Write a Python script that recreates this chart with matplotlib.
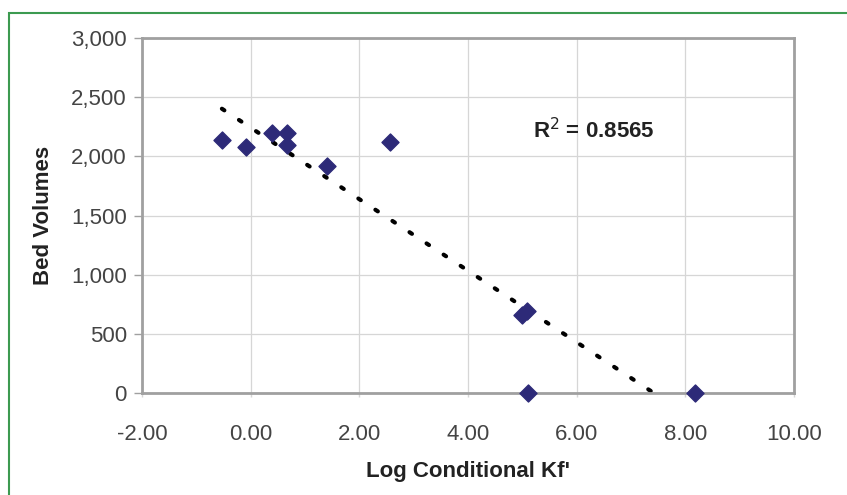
import numpy as np
import matplotlib.pyplot as plt
from matplotlib.patches import Rectangle

plt.rcParams['font.family'] = ['Liberation Sans', 'DejaVu Sans']

# Data
log_kf = [-0.53, -0.09, 0.385, 0.66, 0.66, 1.41, 2.57, 5.00, 5.08, 5.10, 8.18]
bed_volumes = [2135, 2076, 2195, 2195, 2093, 1915, 2119, 661, 690, 0, 0]
x_ticks = [-2, 0, 2, 4, 6, 8, 10]
y_ticks = [0, 500, 1000, 1500, 2000, 2500, 3000]
r2_label = 'R$^2$ = 0.8565'

fig = plt.figure(figsize=(8.47, 4.95), dpi=100)
ax = fig.add_axes([0.1677, 0.206, 0.7698, 0.717])

# green frame around the figure (runs off the right/bottom edge)
fig.patches.append(Rectangle((0.0106, -0.05), 1.2, 0.9737 + 0.05, transform=fig.transFigure,
                             fill=False, edgecolor='#3c9a50', lw=1.5))

ax.grid(True, color='#d6d6d6', lw=0.9)
ax.set_axisbelow(True)

# linear trendline fitted to the points
slope, intercept = np.polyfit(log_kf, bed_volumes, 1)
xfit = np.array([min(log_kf), max(log_kf)])
ax.plot(xfit, slope * xfit + intercept, color='black', lw=3,
        linestyle=(0, (0.7, 4.2)), dash_capstyle='round', zorder=2)

ax.scatter(log_kf, bed_volumes, marker='D', s=75, color='#2d2a78', zorder=3, clip_on=False)

ax.text(5.19, 2220, r2_label, fontsize=16, fontweight='bold', va='center', ha='left',
        color='#222222')

ax.set_xlim(-2, 10)
ax.set_ylim(0, 3000)
ax.set_xticks(x_ticks)
ax.set_xticklabels(['{:.2f}'.format(t) for t in x_ticks])
ax.set_yticks(y_ticks)
ax.set_yticklabels(['{:,}'.format(t) for t in y_ticks])
ax.tick_params(labelsize=16, colors='#444444', width=1)
ax.tick_params(axis='x', pad=19, length=3, color='#d6d6d6')
ax.tick_params(axis='y', pad=5, length=6, color='#a0a0a0')

for side in ['left', 'bottom', 'top', 'right']:
    ax.spines[side].set_color('#a0a0a0')
    ax.spines[side].set_linewidth(2)

ax.set_xlabel("Log Conditional Kf'", fontsize=16, fontweight='bold', labelpad=12,
              color='#222222')
ax.set_ylabel('Bed Volumes', fontsize=16, fontweight='bold', labelpad=12, color='#222222')

fig.savefig('out.png', dpi=100)
